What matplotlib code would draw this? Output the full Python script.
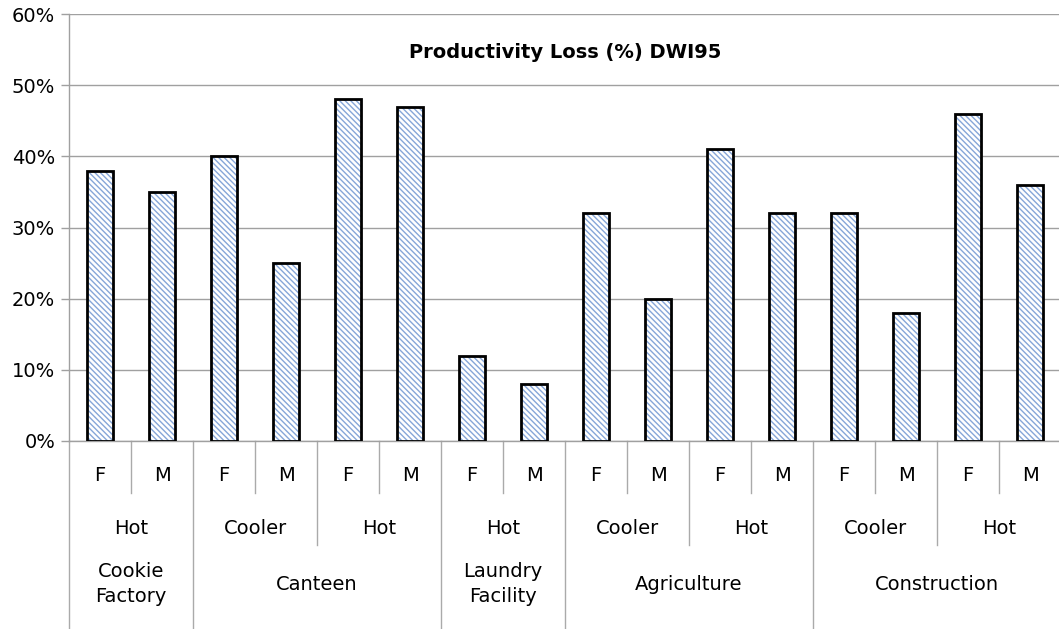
import matplotlib.pyplot as plt
from matplotlib.lines import Line2D
from matplotlib.ticker import FuncFormatter

plt.rcParams['font.family'] = ['DejaVu Sans']
plt.rcParams['hatch.linewidth'] = 1.0

# Data
sexes = ['F', 'M'] * 8
conditions = ['Hot', 'Cooler', 'Hot', 'Hot', 'Cooler', 'Hot', 'Cooler', 'Hot']
sites = ['Cookie\nFactory', 'Canteen', 'Laundry\nFacility', 'Agriculture', 'Construction']
site_groups = [1, 2, 1, 2, 2]   # number of condition groups per site
loss = [38, 35, 40, 25, 48, 47, 12, 8, 32, 20, 41, 32, 32, 18, 46, 36]

fig = plt.figure(figsize=(10.59, 6.29), dpi=100)
ax = fig.add_axes([0.0652, 0.2989, 0.9368, 0.6788])

x = list(range(len(loss)))
# hatch layer (light blue) then black outline on top
ax.bar(x, loss, width=0.43, color='white', edgecolor='#86a6d8', hatch='\\\\\\\\\\\\',
       linewidth=0, zorder=2)
ax.bar(x, loss, width=0.43, fill=False, edgecolor='black', linewidth=2.0, zorder=3)

ax.set_xlim(-0.5, len(loss) - 0.5)
ax.set_ylim(0, 60)
ax.set_yticks(range(0, 61, 10))
ax.yaxis.set_major_formatter(FuncFormatter(lambda v, p: f'{int(v)}%'))
ax.tick_params(axis='y', length=6, width=1, color='#a0a0a0', labelsize=14, pad=4)
ax.set_xticks([])
ax.grid(axis='y', color='#a0a0a0', linewidth=1)
ax.set_axisbelow(True)
for s in ['top', 'right']:
    ax.spines[s].set_visible(False)
for s in ['left', 'bottom']:
    ax.spines[s].set_color('#a0a0a0')
    ax.spines[s].set_linewidth(1)

ax.text(0.5, 54.6, 'Productivity Loss (%) DWI95', transform=ax.get_yaxis_transform(),
        ha='center', va='center', fontsize=14, fontweight='bold')

# multi-level category axis
trans = ax.get_xaxis_transform()
y_sex, y_cond, y_site = -0.122, -0.2436, -0.44
sep_kw = dict(color='#aaaaaa', linewidth=1, transform=trans, clip_on=False)

for i, s in enumerate(sexes):
    ax.text(i, -0.08, s, transform=trans, ha='center', va='center', fontsize=14)
for i in range(0, len(loss), 2):
    ax.add_line(Line2D([i + 0.5, i + 0.5], [0, y_sex], **sep_kw))

for g, c in enumerate(conditions):
    ax.text(2 * g + 0.5, -0.205, c, transform=trans, ha='center', va='center', fontsize=14)

start = 0
ax.add_line(Line2D([-0.5, -0.5], [0, y_site], **sep_kw))
for site, n in zip(sites, site_groups):
    end = start + 2 * n
    ax.text((start + end - 1) / 2, -0.335, site, transform=trans, ha='center', va='center',
            fontsize=14, linespacing=1.35)
    for k in range(start + 2, end, 2):
        ax.add_line(Line2D([k - 0.5, k - 0.5], [0, y_cond], **sep_kw))
    if end < len(loss):
        ax.add_line(Line2D([end - 0.5, end - 0.5], [0, y_site], **sep_kw))
    start = end

fig.savefig('out.png', dpi=100)
